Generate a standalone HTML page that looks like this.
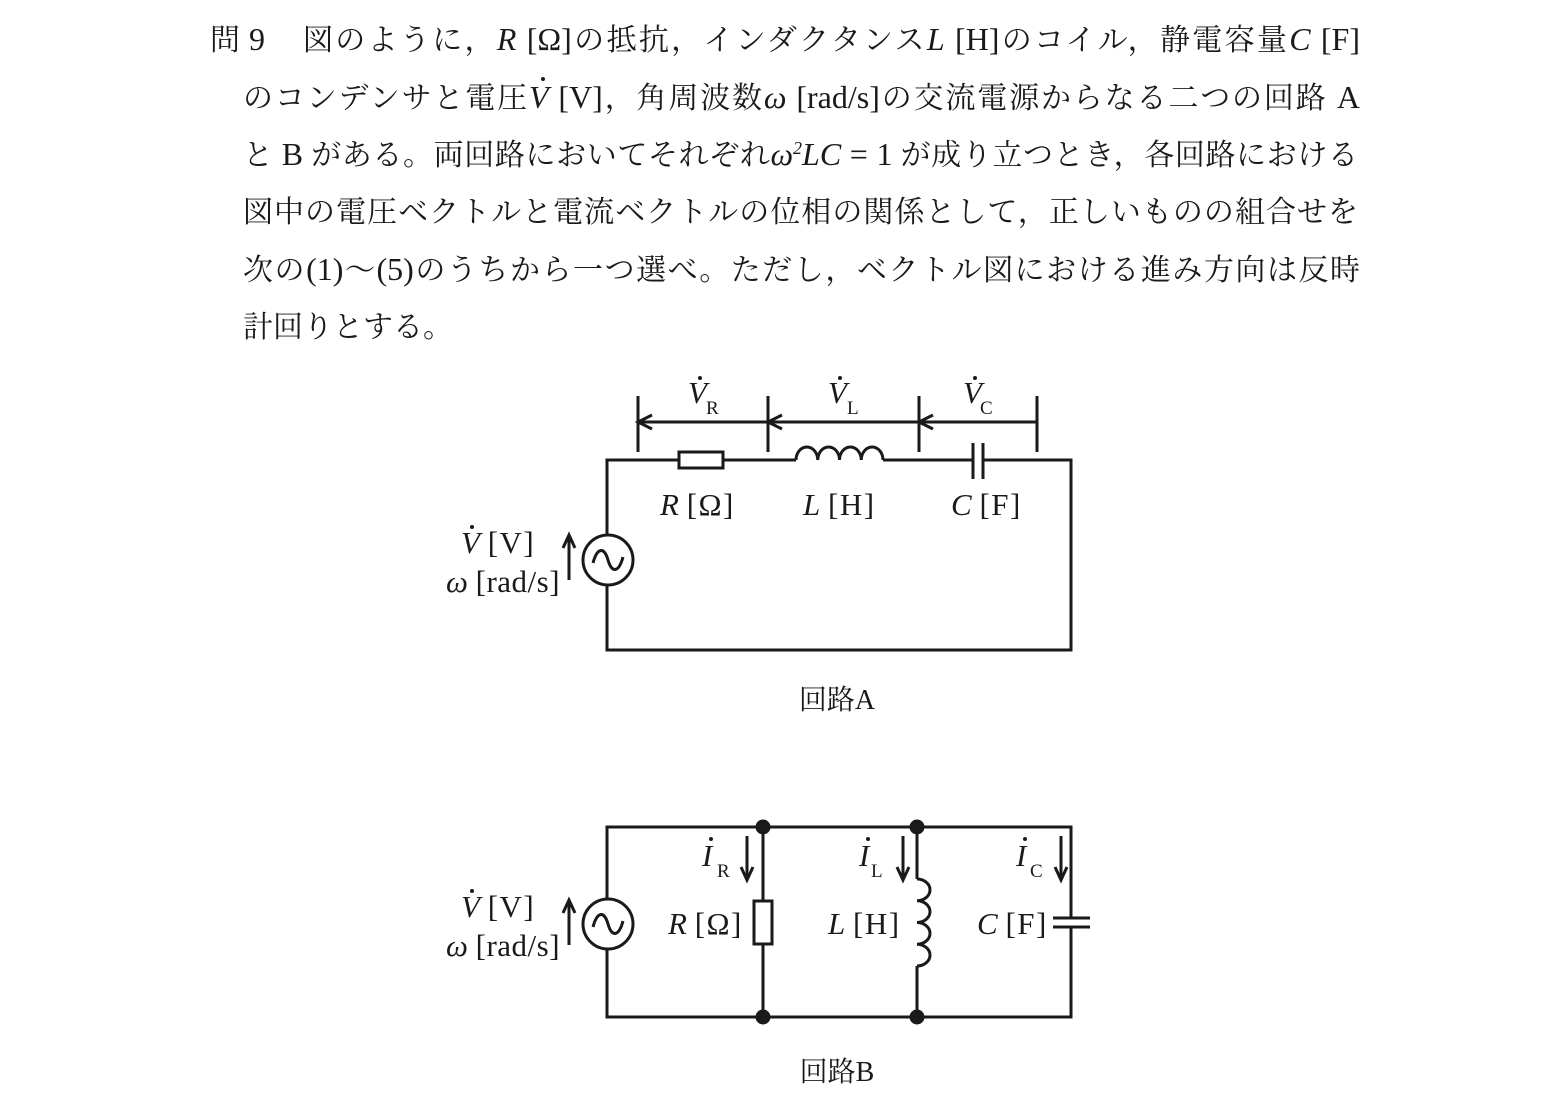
<!DOCTYPE html>
<html lang="ja">
<head>
<meta charset="utf-8">
<style>
  html,body{margin:0;padding:0;background:#fff;}
  body{width:1552px;height:1096px;position:relative;overflow:hidden;
       font-family:"Liberation Serif","Noto Serif CJK SC","Noto Serif CJK JP",serif;color:#1a1a1a;}
  .ln{position:absolute;font-size:30px;line-height:30px;text-align:justify;text-align-last:justify;}
  .lt{font-size:32px;line-height:0;}
  .i{font-style:italic;}
  .dv{position:relative;font-style:italic;}
  .dv::before{content:"";position:absolute;left:12px;top:-2px;width:4px;height:4px;border-radius:50%;background:#1a1a1a;}
  .sq{position:relative;top:-11px;font-size:18px;font-style:italic;line-height:0;}
  svg{position:absolute;left:0;top:0;}
</style>
</head>
<body>
<div class="ln" style="left:210px;top:26px;text-align:left;text-align-last:auto;">問</div>
<div class="ln" style="left:249px;top:26px;text-align:left;text-align-last:auto;"><span class="lt">9</span></div>
<div class="ln" style="left:303px;top:26px;width:1057px;">図のように，<span class="lt"><span class="i">R</span> [Ω]</span>の抵抗，インダクタンス<span class="lt"><span class="i">L</span> [H]</span>のコイル，静電容量<span class="lt"><span class="i">C</span> [F]</span></div>
<div class="ln" style="left:243px;top:84px;width:1117px;">のコンデンサと電圧<span class="lt"><span class="dv">V</span> [V]</span>，角周波数<span class="lt"><span class="i">ω</span> [rad/s]</span>の交流電源からなる二つの回路 <span class="lt">A</span></div>
<div class="ln" style="left:243px;top:141px;width:1115px;">と <span class="lt">B</span> がある。両回路においてそれぞれ<span class="lt"><span class="i">ω</span><span class="sq">2</span><span class="i">LC</span> = 1</span> が成り立つとき，各回路における</div>
<div class="ln" style="left:243px;top:198px;width:1115px;">図中の電圧ベクトルと電流ベクトルの位相の関係として，正しいものの組合せを</div>
<div class="ln" style="left:243px;top:256px;width:1117px;">次の<span class="lt">(1)</span>～<span class="lt">(5)</span>のうちから一つ選べ。ただし，ベクトル図における進み方向は反時</div>
<div class="ln" style="left:243px;top:313px;text-align:left;text-align-last:auto;">計回りとする。</div>

<svg width="1552" height="1096" viewBox="0 0 1552 1096" xmlns="http://www.w3.org/2000/svg">
  <g fill="none" stroke="#1a1a1a" stroke-width="3">
    <!-- Circuit A -->
    <path d="M607,535 V460 H679"/>
    <rect x="679" y="452" width="44" height="16"/>
    <path d="M723,460 H796"/>
    <path d="M796,460 a10.875,13 0 0 1 21.75,0 a10.875,13 0 0 1 21.75,0 a10.875,13 0 0 1 21.75,0 a10.875,13 0 0 1 21.75,0"/>
    <path d="M883,460 H973"/>
    <path d="M973,443 V479 M983,443 V479"/>
    <path d="M983,460 H1071 V650 H607 V585"/>
    <!-- measurement -->
    <path d="M638,396 V452 M768,396 V452 M919,396 V452 M1037,396 V452"/>
    <path d="M638,422 H1037"/>
    <path d="M652,415 L638,422 L652,429 M782,415 L768,422 L782,429 M933,415 L919,422 L933,429"/>
    <!-- source A -->
    <circle cx="608" cy="560" r="25"/>
    <path d="M593,563 C597,548 604,546 608,560 C612,574 619,572 623,557"/>
    <path d="M569,580 V537 M563,548 L569,535 L575,548"/>

    <!-- Circuit B -->
    <path d="M607,899 V827 H1071 V918"/>
    <path d="M1071,927 V1017 H607 V949"/>
    <path d="M1053,918 H1090 M1053,927 H1090"/>
    <path d="M763,827 V901"/>
    <rect x="754" y="901" width="18" height="43"/>
    <path d="M763,944 V1017"/>
    <path d="M917,827 V879"/>
    <path d="M917,879 a13,10.875 0 0 1 0,21.75 a13,10.875 0 0 1 0,21.75 a13,10.875 0 0 1 0,21.75 a13,10.875 0 0 1 0,21.75"/>
    <path d="M917,966 V1017"/>
    <!-- current arrows -->
    <path d="M747,836 V878 M741,867 L747,880 L753,867"/>
    <path d="M903,836 V878 M897,867 L903,880 L909,867"/>
    <path d="M1061,836 V878 M1055,867 L1061,880 L1067,867"/>
    <!-- source B -->
    <circle cx="608" cy="924" r="25"/>
    <path d="M593,927 C597,912 604,910 608,924 C612,938 619,936 623,921"/>
    <path d="M569,945 V902 M563,913 L569,900 L575,913"/>
  </g>
  <g fill="#1a1a1a">
    <circle cx="763" cy="827" r="7.5"/>
    <circle cx="917" cy="827" r="7.5"/>
    <circle cx="763" cy="1017" r="7.5"/>
    <circle cx="917" cy="1017" r="7.5"/>
    <!-- dots over V / I -->
    <circle cx="700" cy="378" r="2"/>
    <circle cx="840" cy="378" r="2"/>
    <circle cx="975" cy="378" r="2"/>
    <circle cx="472" cy="527" r="2"/>
    <circle cx="472" cy="891" r="2"/>
    <circle cx="711" cy="839" r="2"/>
    <circle cx="868" cy="839" r="2"/>
    <circle cx="1025" cy="839" r="2"/>
  </g>
  <g fill="#1a1a1a" font-family="Liberation Serif, serif" font-size="31">
    <!-- Circuit A labels -->
    <text x="688" y="403" font-style="italic">V</text>
    <text x="706" y="414" font-size="19">R</text>
    <text x="828" y="403" font-style="italic">V</text>
    <text x="847" y="414" font-size="19">L</text>
    <text x="963" y="403" font-style="italic">V</text>
    <text x="980" y="414" font-size="19">C</text>

    <text x="660" y="515"><tspan font-style="italic">R</tspan> <tspan letter-spacing="1.5">[Ω]</tspan></text>
    <text x="803" y="515"><tspan font-style="italic">L</tspan> <tspan letter-spacing="1.5">[H]</tspan></text>
    <text x="951" y="515"><tspan font-style="italic">C</tspan> <tspan letter-spacing="1.5">[F]</tspan></text>

    <text x="461" y="553"><tspan font-style="italic">V</tspan> <tspan letter-spacing="1.5">[V]</tspan></text>
    <text x="446" y="592"><tspan font-style="italic">ω</tspan> <tspan letter-spacing="0.5">[rad/s]</tspan></text>

    <!-- Circuit B labels -->
    <text x="702" y="866" font-style="italic">I</text>
    <text x="717" y="877" font-size="19">R</text>
    <text x="859" y="866" font-style="italic">I</text>
    <text x="871" y="877" font-size="19">L</text>
    <text x="1016" y="866" font-style="italic">I</text>
    <text x="1030" y="877" font-size="19">C</text>

    <text x="668" y="934"><tspan font-style="italic">R</tspan> <tspan letter-spacing="1.5">[Ω]</tspan></text>
    <text x="828" y="934"><tspan font-style="italic">L</tspan> <tspan letter-spacing="1.5">[H]</tspan></text>
    <text x="977" y="934"><tspan font-style="italic">C</tspan> <tspan letter-spacing="1.5">[F]</tspan></text>

    <text x="461" y="917"><tspan font-style="italic">V</tspan> <tspan letter-spacing="1.5">[V]</tspan></text>
    <text x="446" y="956"><tspan font-style="italic">ω</tspan> <tspan letter-spacing="0.5">[rad/s]</tspan></text>
  </g>
  <g fill="#1a1a1a" font-family="Liberation Serif, Noto Serif CJK SC, serif" font-size="28">
    <text x="837" y="709" text-anchor="middle">回路A</text>
    <text x="837" y="1081" text-anchor="middle">回路B</text>
  </g>
</svg>
</body>
</html>
